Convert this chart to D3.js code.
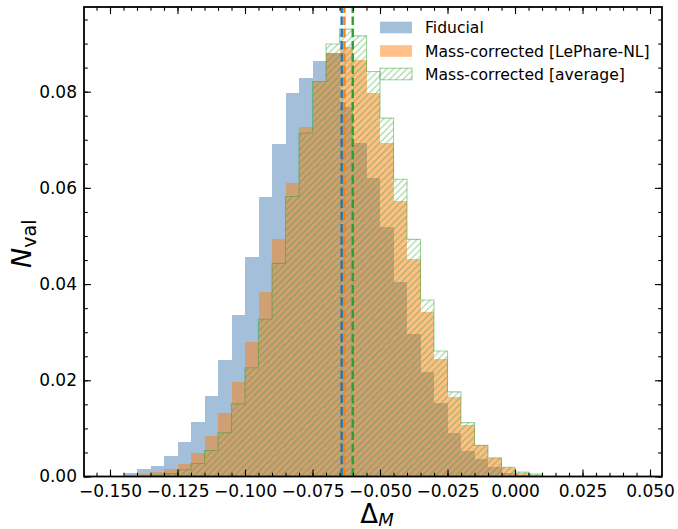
<!DOCTYPE html>
<html>
<head>
<meta charset="utf-8">
<script src="https://cdn.jsdelivr.net/npm/d3@7"></script>
<style>
  html, body { margin: 0; padding: 0; background: #fff; }
  svg { display: block; font-family: "DejaVu Sans", sans-serif; }
</style>
</head>
<body>
<svg id="chart" width="678" height="529"></svg>
<script>
// ---------------- data ----------------
const binLefts = [-0.150, -0.145, -0.140, -0.135, -0.130, -0.125, -0.120, -0.115, -0.110, -0.105,
                  -0.100, -0.095, -0.090, -0.085, -0.080, -0.075, -0.070, -0.065, -0.060, -0.055,
                  -0.050, -0.045, -0.040, -0.035, -0.030, -0.025, -0.020, -0.015, -0.010, -0.005,
                   0.000,  0.005,  0.010];
const binWidth = 0.005;
const fiducial = [0.0000, 0.0007, 0.0016, 0.0022, 0.0043, 0.0071, 0.0113, 0.0167, 0.0242, 0.0336,
                  0.0456, 0.0580, 0.0691, 0.0798, 0.0829, 0.0864, 0.0880, 0.0768, 0.0693, 0.0620,
                  0.0519, 0.0405, 0.0296, 0.0218, 0.0153, 0.0090, 0.0054, 0.0036, 0.0019, 0.0008,
                  0.0003, 0.0000, 0.0000];
const lephare  = [0.0000, 0.0000, 0.0005, 0.0009, 0.0015, 0.0027, 0.0049, 0.0084, 0.0131, 0.0197,
                  0.0280, 0.0383, 0.0493, 0.0610, 0.0726, 0.0821, 0.0880, 0.0892, 0.0866, 0.0797,
                  0.0693, 0.0573, 0.0452, 0.0341, 0.0244, 0.0165, 0.0107, 0.0065, 0.0038, 0.0017,
                  0.0008, 0.0004, 0.0002];
const average  = [0.0000, 0.0000, 0.0000, 0.0003, 0.0006, 0.0014, 0.0027, 0.0054, 0.0091, 0.0151,
                  0.0226, 0.0327, 0.0443, 0.0582, 0.0714, 0.0821, 0.0899, 0.0930, 0.0916, 0.0842,
                  0.0745, 0.0618, 0.0493, 0.0367, 0.0261, 0.0176, 0.0112, 0.0065, 0.0039, 0.0019,
                  0.0009, 0.0005, 0.0000];
const seriesNames = ["Fiducial", "Mass-corrected [LePhare-NL]", "Mass-corrected [average]"];
const meanLines = [-0.0642, -0.0632, -0.0601];   // fiducial, lephare, average
const xTicks = [-0.150, -0.125, -0.100, -0.075, -0.050, -0.025, 0.000, 0.025, 0.050];
const yTicks = [0.00, 0.02, 0.04, 0.06, 0.08];
const xDomain = [-0.15963, 0.05444];
const yDomain = [0, 0.0976];

// ---------------- layout ----------------
const svg = d3.select("#chart");
const L = 84, R = 662, T = 7, B = 476.5;
const x = d3.scaleLinear().domain(xDomain).range([L, R]);
const y = d3.scaleLinear().domain(yDomain).range([B, T]);

const colBlue = "#a3bfda";
const colOrange = "#ff7f0e";
const colGreen = "#2ca02c";

// hatch pattern
const defs = svg.append("defs");
const hs = 6.7;
const pat = defs.append("pattern")
  .attr("id", "hatch").attr("patternUnits", "userSpaceOnUse")
  .attr("width", hs).attr("height", hs);
pat.append("path")
  .attr("d", `M0,${hs} L${hs},0 M${-hs/2},${hs/2} L${hs/2},${-hs/2} M${hs/2},${hs*1.5} L${hs*1.5},${hs/2}`)
  .attr("stroke", colGreen).attr("stroke-opacity", 0.5).attr("stroke-width", 1.1);

defs.append("clipPath").attr("id", "plotclip")
  .append("rect").attr("x", L).attr("y", T).attr("width", R - L).attr("height", B - T);

const plot = svg.append("g").attr("clip-path", "url(#plotclip)");

// bars
function bars(vals, fill, opacity) {
  plot.append("g").selectAll("rect")
    .data(binLefts.map((b, i) => ({b, v: vals[i]})).filter(d => d.v > 0))
    .join("rect")
    .attr("x", d => x(d.b))
    .attr("width", d => x(d.b + binWidth) - x(d.b))
    .attr("y", d => y(d.v))
    .attr("height", d => y(0) - y(d.v))
    .attr("fill", fill)
    .attr("fill-opacity", opacity)
    .attr("shape-rendering", "crispEdges");
}
bars(fiducial, colBlue, 1);
bars(lephare, colOrange, 0.5);

// hatched step outline for average
const firstIdx = average.findIndex(v => v > 0);
let lastIdx = average.length - 1; while (average[lastIdx] <= 0) lastIdx--;
const pts = [[x(binLefts[firstIdx]), y(0)]];
for (let i = firstIdx; i <= lastIdx; i++) {
  pts.push([x(binLefts[i]), y(average[i])]);
  pts.push([x(binLefts[i] + binWidth), y(average[i])]);
}
pts.push([x(binLefts[lastIdx] + binWidth), y(0)]);
plot.append("path")
  .attr("d", d3.line()(pts) + "Z")
  .attr("fill", "url(#hatch)")
  .attr("stroke", colGreen).attr("stroke-opacity", 0.45).attr("stroke-width", 1.1);

// mean lines
const lineCols = ["#1f77b4", colOrange, colGreen];
meanLines.forEach((m, i) => {
  plot.append("line")
    .attr("x1", x(m)).attr("x2", x(m)).attr("y1", B).attr("y2", T)
    .attr("stroke", lineCols[i]).attr("stroke-width", 2.4)
    .attr("stroke-dasharray", "8.5,3.7");
});

// ---------------- axes ----------------
const fmtX = v => (v < 0 ? "\u2212" : "") + Math.abs(v).toFixed(3);
const fmtY = v => v.toFixed(2);
const xMinor = d3.range(-0.155, 0.0551, 0.005).filter(v => v >= xDomain[0] && v <= xDomain[1]);
const yMinor = d3.range(0, 0.0976, 0.005);

const ax = svg.append("g");
const xAxB = d3.axisBottom(x).tickValues(xTicks).tickFormat(fmtX).tickSizeInner(-7).tickSizeOuter(0).tickPadding(8);
const xAxT = d3.axisTop(x).tickValues(xTicks).tickFormat("").tickSizeInner(-7).tickSizeOuter(0);
const yAxL = d3.axisLeft(y).tickValues(yTicks).tickFormat(fmtY).tickSizeInner(-7).tickSizeOuter(0).tickPadding(7);
const yAxR = d3.axisRight(y).tickValues(yTicks).tickFormat("").tickSizeInner(-7).tickSizeOuter(0);
const xMinB = d3.axisBottom(x).tickValues(xMinor).tickFormat("").tickSizeInner(-3.8).tickSizeOuter(0);
const xMinT = d3.axisTop(x).tickValues(xMinor).tickFormat("").tickSizeInner(-3.8).tickSizeOuter(0);
const yMinL = d3.axisLeft(y).tickValues(yMinor).tickFormat("").tickSizeInner(-3.8).tickSizeOuter(0);
const yMinR = d3.axisRight(y).tickValues(yMinor).tickFormat("").tickSizeInner(-3.8).tickSizeOuter(0);

[[xMinB, `translate(0,${B})`], [xMinT, `translate(0,${T})`], [yMinL, `translate(${L},0)`], [yMinR, `translate(${R},0)`],
 [xAxB, `translate(0,${B})`], [xAxT, `translate(0,${T})`], [yAxL, `translate(${L},0)`], [yAxR, `translate(${R},0)`]]
.forEach(([a, t]) => {
  const g = ax.append("g").attr("transform", t).call(a);
  g.select(".domain").remove();
  g.selectAll(".tick line").attr("stroke", "#000").attr("stroke-width", 1.1);
  g.selectAll("text").attr("font-size", 17).attr("fill", "#000").attr("font-family", "DejaVu Sans");
});

// frame
svg.append("rect").attr("x", L).attr("y", T).attr("width", R - L).attr("height", B - T)
  .attr("fill", "none").attr("stroke", "#000").attr("stroke-width", 1.8);

// axis labels
const xl = svg.append("text").attr("x", (L + R) / 2 + 4).attr("y", 522.5)
  .attr("text-anchor", "middle").attr("font-size", 26).attr("fill", "#000");
xl.append("tspan").text("\u0394");
xl.append("tspan").attr("font-style", "italic").attr("font-size", 18).attr("dy", 3).text("M");

const yl = svg.append("text").attr("transform", `translate(31,${(T + B) / 2 + 2}) rotate(-90)`)
  .attr("text-anchor", "middle").attr("font-size", 27).attr("fill", "#000");
yl.append("tspan").attr("font-style", "italic").text("N");
yl.append("tspan").attr("font-size", 19).attr("dy", 5).text("val");

// legend
const lg = svg.append("g");
const legRows = [27.5, 51, 74];
const legFill = [[colBlue, 1], [colOrange, 0.5], ["url(#hatch)", 1]];
seriesNames.forEach((name, i) => {
  const r = lg.append("rect").attr("x", 380).attr("y", legRows[i] - 5.8).attr("width", 32).attr("height", 11.6)
    .attr("fill", legFill[i][0]).attr("fill-opacity", legFill[i][1]);
  if (i === 2) r.attr("stroke", colGreen).attr("stroke-opacity", 0.45).attr("stroke-width", 1.1);
  lg.append("text").attr("x", 425).attr("y", legRows[i] + 5.5).attr("font-size", 15.6).attr("fill", "#000").text(name);
});
</script>
</body>
</html>
